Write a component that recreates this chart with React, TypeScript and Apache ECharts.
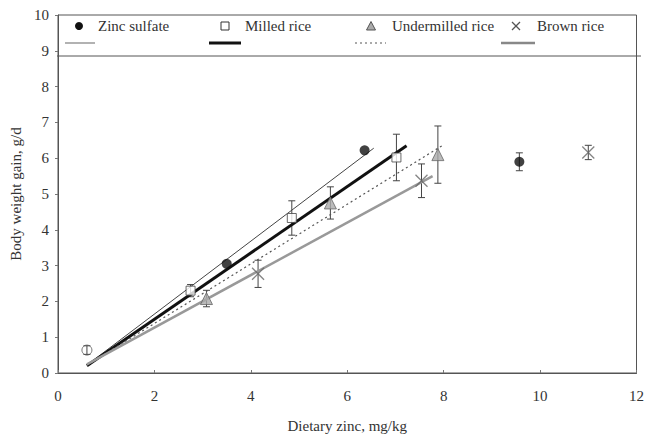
import React, { useEffect, useRef } from "react";
import * as echarts from "echarts";

// ---- Data ----
const xAxisTicks = [0, 2, 4, 6, 8, 10, 12];
const yAxisTicks = [0, 1, 2, 3, 4, 5, 6, 7, 8, 9, 10];

const basalX = [0.6];
const basalY = [0.64];
const basalErr = [0.12];

const zincX = [3.5, 6.36, 9.57];
const zincY = [3.05, 6.22, 5.9];
const zincErr = [0, 0, 0.25];

const milledX = [2.75, 4.85, 7.02];
const milledY = [2.3, 4.33, 6.02];
const milledErr = [0.17, 0.48, 0.65];

const underX = [3.08, 5.65, 7.88];
const underY = [2.08, 4.75, 6.1];
const underErr = [0.23, 0.45, 0.8];

const brownX = [4.15, 7.54, 11.0];
const brownY = [2.77, 5.37, 6.16];
const brownErr = [0.38, 0.47, 0.2];

// regression line endpoints [x, y]
const zincLine = [[0.6, 0.22], [6.55, 6.28]];
const milledLine = [[0.6, 0.2], [7.23, 6.35]];
const underLine = [[0.6, 0.22], [7.98, 6.36]];
const brownLine = [[0.6, 0.24], [7.77, 5.5]];

const legendNames = ["Zinc sulfate", "Milled rice", "Undermilled rice", "Brown rice"];
const xTitle = "Dietary zinc, mg/kg";
const yTitle = "Body weight gain, g/d";

const FONT = '"Liberation Serif", "Times New Roman", serif';
const TXT = "#333";

const pts = (xs: number[], ys: number[]) => xs.map((x, i) => [x, ys[i]]);
const errs = (xs: number[], ys: number[], es: number[]) =>
  xs.map((x, i) => [x, ys[i] - es[i], ys[i] + es[i]]).filter((_, i) => es[i] > 0);

const allErr = [
  ...errs(basalX, basalY, basalErr),
  ...errs(zincX, zincY, zincErr),
  ...errs(milledX, milledY, milledErr),
  ...errs(underX, underY, underErr),
  ...errs(brownX, brownY, brownErr),
];

export default function App() {
  const ref = useRef<HTMLDivElement>(null);
  useEffect(() => {
    if (!ref.current) return;
    const chart = echarts.init(ref.current, null, { renderer: "svg" });
    const textStyle = (text: string, x: number, y: number) => ({
      type: "text",
      x,
      y,
      style: { text, fill: TXT, fontSize: 15, fontFamily: FONT, verticalAlign: "middle", align: "left" },
    });
    const ln = (x1: number, y1: number, x2: number, y2: number, stroke: string, lineWidth: number, lineDash?: number[]) => ({
      type: "line",
      shape: { x1, y1, x2, y2 },
      style: { stroke, lineWidth, lineDash },
    });
    const R1 = 26;
    const R2 = 43;
    const option: any = {
      animation: false,
      backgroundColor: "#fff",
      grid: { left: 57, right: 6, top: 15, bottom: 61, show: true, borderColor: "#555", borderWidth: 1 },
      xAxis: {
        type: "value",
        min: xAxisTicks[0],
        max: xAxisTicks[xAxisTicks.length - 1],
        interval: 2,
        name: xTitle,
        nameLocation: "middle",
        nameGap: 45,
        nameTextStyle: { color: TXT, fontSize: 15, fontFamily: FONT },
        axisLine: { lineStyle: { color: "#555" } },
        axisTick: { inside: true, length: 3, lineStyle: { color: "#777" } },
        axisLabel: { color: TXT, fontSize: 15, fontFamily: FONT, margin: 15 },
        splitLine: { show: false },
      },
      yAxis: {
        type: "value",
        min: yAxisTicks[0],
        max: yAxisTicks[yAxisTicks.length - 1],
        interval: 1,
        name: yTitle,
        nameLocation: "middle",
        nameGap: 35,
        nameTextStyle: { color: TXT, fontSize: 15, fontFamily: FONT },
        axisLine: { lineStyle: { color: "#555" } },
        axisTick: { length: 3, lineStyle: { color: "#777" } },
        axisLabel: { color: TXT, fontSize: 15, fontFamily: FONT, margin: 9 },
        splitLine: { show: false },
      },
      graphic: [
        ln(57, 56, 641, 56, "#555", 1),
        { type: "circle", shape: { cx: 79, cy: R1, r: 4 }, style: { fill: "#111" } },
        textStyle(legendNames[0], 98, R1),
        { type: "rect", shape: { x: 221, y: R1 - 4, width: 8, height: 8 }, style: { fill: "#fff", stroke: "#333", lineWidth: 1 } },
        textStyle(legendNames[1], 245, R1),
        { type: "polygon", shape: { points: [[371, R1 - 4.5], [375.5, R1 + 4], [366.5, R1 + 4]] }, style: { fill: "#aaa", stroke: "#555", lineWidth: 1 } },
        textStyle(legendNames[2], 392, R1),
        ln(512, R1 - 4, 520, R1 + 4, "#555", 1.2),
        ln(520, R1 - 4, 512, R1 + 4, "#555", 1.2),
        textStyle(legendNames[3], 537, R1),
        ln(65, R2, 95, R2, "#999", 1.5),
        ln(209, R2, 241, R2, "#111", 3),
        ln(355, R2, 386, R2, "#555", 1, [2, 3]),
        ln(501, R2, 535, R2, "#888", 2.5),
      ],
      series: [
        {
          type: "custom",
          name: "errors",
          z: 2,
          data: allErr,
          renderItem: (params: any, api: any) => {
            const x = api.value(0);
            const lo = api.coord([x, api.value(1)]);
            const hi = api.coord([x, api.value(2)]);
            const w = 3.5;
            const st = { stroke: "#444", lineWidth: 1 };
            return {
              type: "group",
              children: [
                { type: "line", shape: { x1: lo[0], y1: lo[1], x2: hi[0], y2: hi[1] }, style: st },
                { type: "line", shape: { x1: lo[0] - w, y1: lo[1], x2: lo[0] + w, y2: lo[1] }, style: st },
                { type: "line", shape: { x1: hi[0] - w, y1: hi[1], x2: hi[0] + w, y2: hi[1] }, style: st },
              ],
            };
          },
        },
        { type: "line", name: "zinc fit", z: 3, data: zincLine, symbol: "none", lineStyle: { color: "#444", width: 1 } },
        { type: "line", name: "milled fit", z: 3, data: milledLine, symbol: "none", lineStyle: { color: "#111", width: 3 } },
        { type: "line", name: "under fit", z: 3, data: underLine, symbol: "none", lineStyle: { color: "#555", width: 1.2, type: [2, 3] } },
        { type: "line", name: "brown fit", z: 3, data: brownLine, symbol: "none", lineStyle: { color: "#999", width: 2.5 } },
        { type: "scatter", name: "Basal", z: 4, data: pts(basalX, basalY), symbol: "circle", symbolSize: 10, itemStyle: { color: "rgba(255,255,255,0)", borderColor: "#555", borderWidth: 1 } },
        { type: "scatter", name: legendNames[0], z: 4, data: pts(zincX, zincY), symbol: "circle", symbolSize: 10, itemStyle: { color: "#111" } },
        { type: "scatter", name: legendNames[1], z: 4, data: pts(milledX, milledY), symbol: "rect", symbolSize: 9, itemStyle: { color: "#fff", borderColor: "#444", borderWidth: 1 } },
        { type: "scatter", name: legendNames[2], z: 4, data: pts(underX, underY), symbol: "triangle", symbolSize: 12, itemStyle: { color: "#aaa", borderColor: "#666", borderWidth: 1 } },
        { type: "scatter", name: legendNames[3], z: 4, data: pts(brownX, brownY), symbol: "path://M0,0L10,10M10,0L0,10", symbolSize: 12, itemStyle: { color: "none", borderColor: "#666", borderWidth: 1.3 } },
      ],
    };
    chart.setOption(option);
    return () => chart.dispose();
  }, []);
  return <div ref={ref} style={{ position: "fixed", left: 0, top: 0, width: 647, height: 438 }} />;
}
